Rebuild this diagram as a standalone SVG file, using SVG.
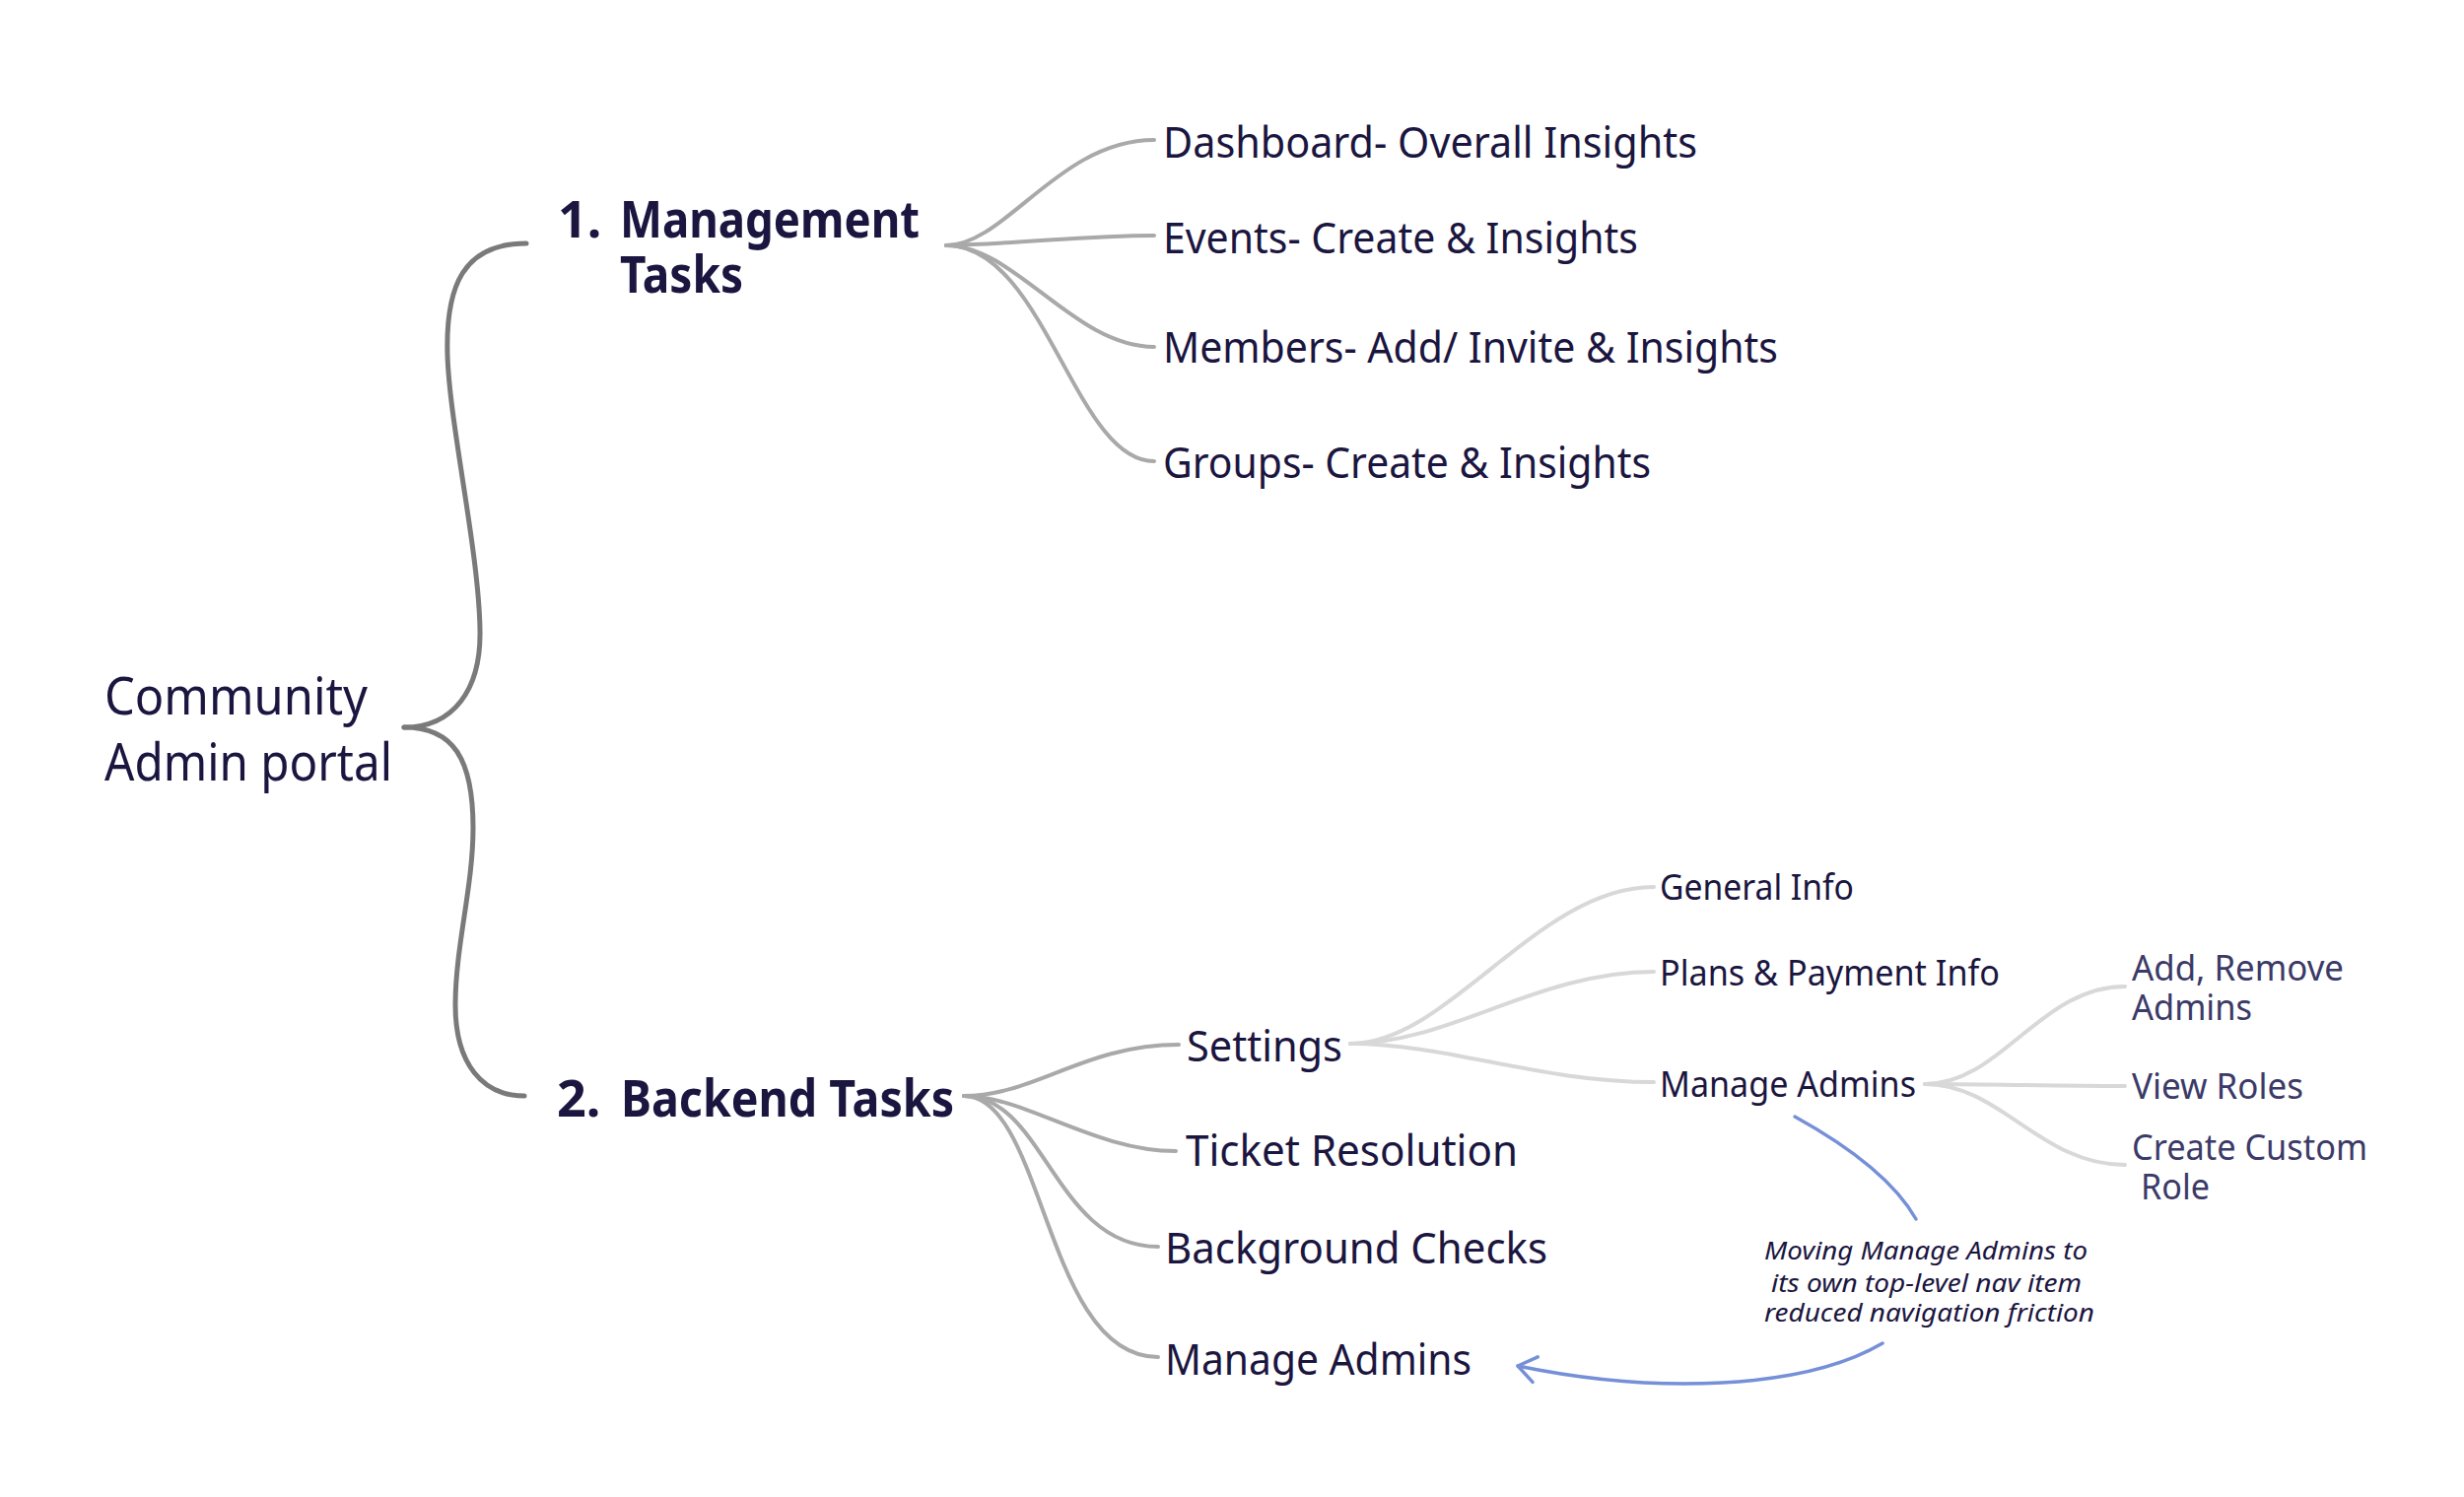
<svg xmlns="http://www.w3.org/2000/svg" width="2500" height="1519" viewBox="0 0 2500 1519">
<style>
text{font-family:"Noto Sans","Open Sans","Liberation Sans",sans-serif;fill:#1b1640}
.root{font-size:53px}
.l1{font-size:52px;font-weight:700}
.l2{font-size:43px}
.l3{font-size:36px}
.l4{font-size:37px;fill:#3b3a68}
.note{font-size:25px;font-style:italic}
.c0{fill:none;stroke:#7a7a7a;stroke-width:5;stroke-linecap:round}
.c1{fill:none;stroke:#a9a9a9;stroke-width:4;stroke-linecap:round}
.c2{fill:none;stroke:#d8d8d8;stroke-width:4;stroke-linecap:round}
.blue{fill:none;stroke:#7690d8;stroke-width:3.5;stroke-linecap:round}
</style>
<defs>
<marker id="open" markerWidth="24" markerHeight="32" refX="21" refY="16" orient="auto" markerUnits="userSpaceOnUse">
<path d="M3,3 L21,16 L3,29" fill="none" stroke="#7690d8" stroke-width="3.5" stroke-linecap="round" stroke-linejoin="round"/>
</marker>
</defs>
<rect width="2500" height="1519" fill="#ffffff"/>
<g id="connectors">
<path class="c0" d="M534,247 C470,247 452,290 454,360 C456,430 486,560 487,640 C488,700 460,738 410,738"/>
<path class="c0" d="M410,738 C460,738 480,770 480,840 C480,900 462,960 462,1020 C462,1080 490,1112 532,1112"/>
<path class="c1" d="M960,249 C1020,249 1075,142 1171,142"/>
<path class="c1" d="M960,249 C1040,247 1100,239 1171,239"/>
<path class="c1" d="M960,249 C1030,249 1090,352 1171,352"/>
<path class="c1" d="M960,249 C1060,249 1090,468 1171,468"/>
<path class="c1" d="M978,1112 C1050,1112 1100,1060 1196,1060"/>
<path class="c1" d="M978,1112 C1040,1112 1110,1168 1193,1168"/>
<path class="c1" d="M978,1112 C1060,1112 1070,1265 1175,1265"/>
<path class="c1" d="M978,1112 C1060,1112 1060,1377 1175,1377"/>
<path class="c2" d="M1370,1059 C1470,1059 1560,900 1678,900"/>
<path class="c2" d="M1370,1059 C1470,1059 1560,986 1678,986"/>
<path class="c2" d="M1370,1059 C1470,1059 1560,1098 1678,1098"/>
<path class="c2" d="M1953,1100 C2030,1100 2070,1001 2156,1001"/>
<path class="c2" d="M1953,1100 C2030,1100 2080,1102 2156,1102"/>
<path class="c2" d="M1953,1100 C2030,1100 2070,1182 2156,1182"/>
<path class="blue" d="M1821,1133 C1870,1160 1920,1195 1944,1237"/>
<path class="blue" d="M1910,1363 C1830,1410 1680,1415 1540,1386" marker-end="url(#open)"/>
</g>
<g id="node-root">
<text class="root" x="106" y="725" textLength="267" lengthAdjust="spacingAndGlyphs">Community</text>
<text class="root" x="106" y="792" textLength="292" lengthAdjust="spacingAndGlyphs">Admin portal</text>
</g>
<g id="node-management">
<text class="l1" x="566" y="241">1.</text>
<text class="l1" x="629" y="241" textLength="304" lengthAdjust="spacingAndGlyphs">Management</text>
<text class="l1" x="629" y="297" textLength="125" lengthAdjust="spacingAndGlyphs">Tasks</text>
</g>
<g id="node-dashboard"><text class="l2" x="1180" y="160" textLength="542" lengthAdjust="spacingAndGlyphs">Dashboard- Overall Insights</text></g>
<g id="node-events"><text class="l2" x="1180" y="257" textLength="482" lengthAdjust="spacingAndGlyphs">Events- Create &amp; Insights</text></g>
<g id="node-members"><text class="l2" x="1180" y="368" textLength="624" lengthAdjust="spacingAndGlyphs">Members- Add/ Invite &amp; Insights</text></g>
<g id="node-groups"><text class="l2" x="1180" y="485" textLength="495" lengthAdjust="spacingAndGlyphs">Groups- Create &amp; Insights</text></g>
<g id="node-backend">
<text class="l1" x="565" y="1133">2.</text>
<text class="l1" x="630" y="1133" textLength="338" lengthAdjust="spacingAndGlyphs">Backend Tasks</text>
</g>
<g id="node-settings"><text class="l2" x="1204" y="1077" textLength="158" lengthAdjust="spacingAndGlyphs">Settings</text></g>
<g id="node-ticket"><text class="l2" x="1203" y="1183" textLength="337" lengthAdjust="spacingAndGlyphs">Ticket Resolution</text></g>
<g id="node-background"><text class="l2" x="1182" y="1282" textLength="388" lengthAdjust="spacingAndGlyphs">Background Checks</text></g>
<g id="node-manage-admins"><text class="l2" x="1182" y="1395" textLength="311" lengthAdjust="spacingAndGlyphs">Manage Admins</text></g>
<g id="node-general"><text class="l3" x="1684" y="913" textLength="197" lengthAdjust="spacingAndGlyphs">General Info</text></g>
<g id="node-plans"><text class="l3" x="1684" y="1000" textLength="345" lengthAdjust="spacingAndGlyphs">Plans &amp; Payment Info</text></g>
<g id="node-settings-admins"><text class="l3" x="1684" y="1113" textLength="260" lengthAdjust="spacingAndGlyphs">Manage Admins</text></g>
<g id="node-add-remove">
<text class="l4" x="2163" y="995" textLength="215" lengthAdjust="spacingAndGlyphs">Add, Remove</text>
<text class="l4" x="2163" y="1035" textLength="122" lengthAdjust="spacingAndGlyphs">Admins</text>
</g>
<g id="node-view-roles"><text class="l4" x="2163" y="1115" textLength="174" lengthAdjust="spacingAndGlyphs">View Roles</text></g>
<g id="node-custom-role">
<text class="l4" x="2163" y="1177" textLength="239" lengthAdjust="spacingAndGlyphs">Create Custom</text>
<text class="l4" x="2172" y="1217" textLength="70" lengthAdjust="spacingAndGlyphs">Role</text>
</g>
<g id="note">
<text class="note" x="1790" y="1278" textLength="328" lengthAdjust="spacingAndGlyphs">Moving Manage Admins to</text>
<text class="note" x="1797" y="1311" textLength="315" lengthAdjust="spacingAndGlyphs">its own top-level nav item</text>
<text class="note" x="1790" y="1341" textLength="335" lengthAdjust="spacingAndGlyphs">reduced navigation friction</text>
</g>
</svg>
